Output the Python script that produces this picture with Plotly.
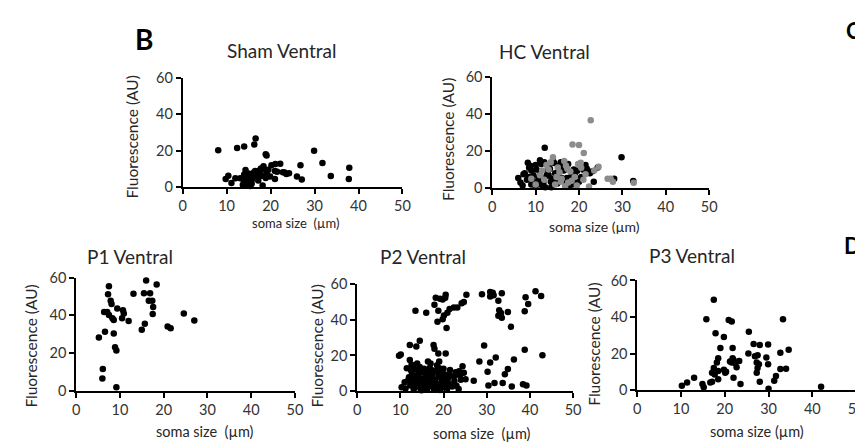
import plotly.graph_objects as go

W, H = 863, 443

# Sham Ventral
sham_x = [8.1, 12.4, 14.0, 16.6, 16.3, 18.9, 19.1, 29.9, 31.8, 21.1, 22.2, 20.2, 26.8, 37.9, 37.8, 33.7, 27.1, 26.0,
          24.2, 23.2, 22.8, 23.6, 21.5, 21.0, 18.4, 18.4, 17.2, 16.5, 14.3, 9.8, 10.4, 11.1, 12.0, 13.1, 13.9, 14.6,
          15.0, 15.7, 15.4, 14.3, 15.9, 17.6, 18.0, 18.9, 19.9, 19.1, 18.2, 21.0, 15.0, 15.7, 16.9, 17.2, 13.7, 14.6,
          16.2, 17.8, 15.2, 14.0, 19.5]
sham_y = [20.2, 21.5, 22.3, 26.7, 23.4, 18.0, 17.3, 19.9, 13.3, 12.7, 12.9, 12.0, 12.0, 10.6, 4.5, 6.1, 4.2, 5.8,
          7.7, 8.0, 8.2, 7.2, 8.4, 4.5, 11.5, 9.8, 8.9, 8.9, 9.4, 4.5, 6.3, 2.3, 4.9, 4.9, 3.7, 5.4,
          2.8, 1.9, 0.7, 6.3, 5.1, 7.2, 6.3, 5.1, 5.8, 7.5, 1.0, 8.9, 7.5, 4.0, 6.3, 3.7, 1.4, 1.0,
          8.0, 10.2, 6.0, 7.0, 9.6]

# HC Ventral (two groups: black and grey)
hc_black_x = [12.1, 29.8, 8.2, 32.5, 28.1, 24.3, 23.1, 23.4, 21.5, 21.1, 19.6, 18.1, 20.0,
              6.0, 6.5, 7.0, 7.5, 8.0, 8.5, 9.0, 9.5, 10.0, 10.5, 11.0, 11.5, 12.0, 12.5, 13.0, 13.5, 14.0, 14.5,
              15.0, 15.5, 16.0, 16.5, 17.0, 17.5, 18.5, 19.0, 20.5, 22.0,
              7.2, 8.8, 9.3, 10.2, 10.8, 11.3, 11.8, 12.8, 13.3, 13.8, 14.3, 15.2, 16.3, 17.2, 18.8, 19.5, 21.8,
              9.0, 10.0, 11.0, 12.2, 13.0, 14.8, 15.8, 17.8, 22.5, 8.5, 11.5, 13.6, 12.6]
hc_black_y = [21.8, 16.6, 13.7, 3.9, 5.1, 11.1, 9.1, 3.4, 12.5, 9.8, 9.4, 6.0, 3.4,
              5.5, 3.0, 1.5, 8.0, 4.5, 11.0, 2.0, 7.0, 12.5, 4.0, 9.0, 1.5, 14.0, 6.5, 11.5, 3.5, 15.0, 8.0,
              2.5, 12.0, 5.5, 9.5, 3.0, 13.0, 2.0, 7.5, 6.0, 8.5,
              7.5, 12.0, 4.0, 10.0, 6.0, 13.0, 3.0, 8.0, 10.5, 5.0, 13.5, 9.0, 11.0, 5.5, 10.0, 3.5, 10.5,
              9.5, 1.0, 15.0, 0.5, 7.0, 4.0, 14.0, 1.5, 8.0, 6.0, 2.5, 0.5, 9.0]
hc_grey_x = [22.7, 18.5, 20.0, 21.1, 20.4, 14.0, 26.6, 27.3, 27.8, 32.6, 22.3, 24.5, 16.6, 15.1,
             10.0, 11.0, 12.0, 13.0, 14.5, 15.5, 16.0, 17.0, 17.5, 18.0, 19.0, 19.5, 20.5, 21.5, 13.5, 16.8,
             18.3, 12.5, 14.8, 17.3, 19.8, 21.0, 9.0, 11.5, 15.8, 23.5]
hc_grey_y = [36.5, 23.5, 23.2, 18.9, 13.7, 16.6, 5.1, 5.1, 3.4, 2.9, 0.9, 11.5, 14.6, 11.1,
             2.0, 7.0, 4.5, 10.0, 2.0, 8.5, 5.0, 12.0, 3.0, 9.0, 6.0, 1.5, 11.0, 7.5, 14.0, 1.0,
             4.0, 12.5, 6.0, 10.5, 13.0, 4.5, 5.0, 9.5, 3.5, 9.5]

# P1 Ventral
p1_x = [7.5, 7.3, 7.9, 8.1, 6.4, 7.1, 7.5, 8.3, 8.6, 9.4, 10.7, 10.9, 10.5, 12.0, 13.1, 5.2, 6.1, 6.0, 6.6,
        8.6, 8.9, 9.2, 9.2, 16.0, 15.5, 16.9, 16.6, 17.4, 18.4, 17.6, 17.5, 15.7, 15.0, 20.9, 21.6, 24.6, 27.0]
p1_y = [55.4, 51.2, 47.8, 46.1, 41.8, 41.8, 40.2, 38.5, 37.6, 43.6, 42.7, 41.0, 38.5, 37.1, 51.5, 28.3, 11.7, 6.6, 31.4,
        30.5, 23.2, 21.5, 2.0, 58.5, 51.7, 51.7, 47.8, 47.8, 56.3, 44.4, 40.7, 35.6, 32.4, 34.2, 33.2, 41.0, 37.3]

# P2 Ventral
p2_x = [13.5, 16.0, 17.9, 18.2, 19.2, 19.8, 20.5, 20.4, 18.8, 18.6, 19.8, 20.1, 20.9, 20.7, 21.4, 22.4, 23.2, 24.2,
        25.3, 24.7, 28.9, 30.8, 31.4, 30.8, 31.6, 33.5, 32.7, 32.9, 33.3, 32.7, 33.5, 34.9, 35.6, 39.0, 39.6, 38.8,
        41.3, 42.6,
        29.4, 28.3, 30.8, 32.1, 36.3, 38.8, 42.9, 30.2, 34.9, 34.2, 27.0, 30.4, 31.8, 33.7, 35.8, 38.4, 39.2, 24.4,
        24.7, 25.1, 23.6, 24.0,
        10.1, 9.7, 12.2, 14.5, 13.7, 17.7, 17.9, 20.5, 12.2, 12.6, 16.4, 18.8, 19.0, 10.3, 11.0,
        11.2, 11.8, 12.3, 12.7, 13.1, 13.4, 13.8, 14.1, 14.4, 14.7, 15.0, 15.3, 15.6, 15.9, 16.2, 16.5, 16.8, 17.1,
        17.4, 17.7, 18.0, 18.3, 18.6, 18.9, 19.2, 19.5, 19.8, 20.1, 20.4, 20.8, 21.2, 21.6, 22.0, 22.5, 23.0, 23.5,
        13.0, 14.5, 15.5, 17.0, 18.5, 19.0, 16.0, 14.0, 12.5, 15.2, 16.8, 17.5, 18.2, 19.0, 13.6, 14.9, 16.4, 17.9,
        19.6, 20.6, 21.5, 22.4, 20.0, 18.8, 17.2, 15.8, 14.2, 12.0, 11.5, 13.2, 16.6, 18.4, 19.8, 21.0, 22.8, 23.8,
        15.0, 16.0, 17.6, 19.4, 12.8, 14.6, 13.9, 20.8]
p2_y = [45.2, 44.0, 48.5, 52.4, 51.9, 51.5, 54.2, 52.4, 45.2, 39.0, 40.4, 42.5, 44.0, 35.4, 46.1, 47.0, 47.0, 49.4,
        54.2, 50.1, 54.4, 55.7, 55.3, 53.1, 53.9, 55.0, 50.8, 45.4, 43.9, 42.3, 41.2, 44.5, 36.1, 52.8, 49.0, 44.9,
        56.1, 53.5,
        25.6, 16.6, 16.0, 18.9, 17.8, 23.2, 20.2, 10.8, 12.4, 9.4, 5.8, 3.1, 4.5, 4.5, 2.5, 3.9, 3.1, 13.9,
        10.3, 6.6, 11.2, 6.3,
        20.5, 19.8, 25.9, 28.3, 25.0, 25.9, 23.8, 21.1, 17.5, 14.8, 16.6, 21.1, 16.6, 2.2, 4.9,
        1.5, 6.0, 3.2, 9.5, 1.0, 5.5, 12.0, 3.0, 7.5, 1.2, 10.5, 4.5, 2.0, 8.0, 0.8, 5.8, 13.0, 3.5,
        9.0, 1.5, 6.5, 11.5, 2.8, 7.8, 0.6, 4.8, 10.0, 2.2, 6.0, 1.0, 4.0, 8.5, 2.5, 5.5, 3.0, 1.2,
        14.0, 13.5, 12.5, 15.5, 14.5, 12.8, 11.0, 9.0, 11.5, 6.8, 7.0, 5.2, 4.0, 3.8, 2.4, 0.5, 2.6, 0.9,
        8.6, 9.2, 11.8, 8.0, 12.5, 9.6, 11.8, 4.0, 5.8, 7.8, 12.8, 7.0, 9.8, 1.8, 5.6, 6.8, 10.6, 8.8,
        2.8, 6.2, 3.0, 2.0, 4.4, 10.8, 15.5, 3.2]

# P3 Ventral
p3_x = [17.5, 15.8, 20.9, 21.6, 33.3, 25.5, 17.9, 19.8, 19.0, 21.8, 26.6, 28.0, 29.9, 25.4, 26.9, 29.5, 32.7, 34.6,
        18.5, 18.2, 17.5, 18.5, 19.8, 20.3, 21.2, 21.6, 22.0, 22.4, 23.3, 21.8, 22.7, 22.0, 23.6, 27.5, 27.3, 27.8,
        27.5, 27.3, 28.0, 29.9, 30.0, 31.3, 31.7, 32.7, 34.0, 10.2, 11.4, 13.0, 14.9, 15.2, 16.7, 17.1, 17.1, 17.7,
        18.5, 20.1, 42.0]
p3_y = [49.5, 38.8, 38.4, 37.5, 38.8, 31.9, 31.1, 29.1, 23.0, 23.0, 25.3, 24.7, 24.9, 20.0, 18.6, 17.9, 20.4, 22.1,
        17.4, 15.1, 12.1, 10.4, 11.2, 10.0, 15.6, 15.1, 16.5, 14.7, 16.0, 17.4, 12.5, 6.8, 3.3, 19.1, 15.1, 14.2,
        12.1, 9.5, 4.6, 14.2, 0.7, 5.1, 7.7, 11.6, 11.7, 2.4, 4.2, 6.8, 3.3, 1.6, 4.2, 4.6, 9.5, 8.6,
        6.0, 9.5, 1.8]

x_ticks = [0, 10, 20, 30, 40, 50]
y_ticks = [0, 20, 40, 60]

FONT = "Lato, 'Open Sans', sans-serif"

# panel boxes in pixels: (x0, x50, y0, y60)
panels = [
    (173, 396, 177, 63),   # Sham
    (487, 707, 178, 62),   # HC
    (65, 287, 389, 271),   # P1
    (350, 569, 389, 278),  # P2
    (634, 856, 388, 274),  # P3
]

fig = go.Figure()

def dots(x, y, n, color="black"):
    sfx = "" if n == 1 else str(n)
    fig.add_trace(go.Scatter(x=x, y=y, mode="markers", xaxis="x" + sfx, yaxis="y" + sfx,
                             marker=dict(color=color, size=6.5, line=dict(width=0)),
                             cliponaxis=False, showlegend=False, hoverinfo="x+y"))

dots(sham_x, sham_y, 1)
dots(hc_black_x, hc_black_y, 2)
dots(hc_grey_x, hc_grey_y, 2, "#8c8c8c")
dots(p1_x, p1_y, 3)
dots(p2_x, p2_y, 4)
dots(p3_x, p3_y, 5)

lay = {}
for i, (x0, x1, y0, y1) in enumerate(panels, start=1):
    sfx = "" if i == 1 else str(i)
    lay["xaxis" + sfx] = dict(domain=[x0 / W, x1 / W], anchor="y" + sfx, range=[0, 50],
                              tickvals=x_ticks, showgrid=False, zeroline=False,
                              showline=True, linecolor="black", linewidth=1.6,
                              ticks="outside", ticklen=5, tickwidth=1.6, tickcolor="black",
                              tickfont=dict(size=14.5, color="#333333", family=FONT))
    lay["yaxis" + sfx] = dict(domain=[1 - y0 / H, 1 - y1 / H], anchor="x" + sfx, range=[0, 60],
                              tickvals=y_ticks, showgrid=False, zeroline=False,
                              showline=True, linecolor="black", linewidth=1.6,
                              ticks="outside", ticklen=5, tickwidth=1.6, tickcolor="black",
                              tickfont=dict(size=14.5, color="#333333", family=FONT))

def label(text, px, py, size, angle=0, bold=False, xanchor="center"):
    fig.add_annotation(text=f"<b>{text}</b>" if bold else text, x=px / W, y=1 - py / H,
                       xref="paper", yref="paper", showarrow=False, textangle=angle,
                       xanchor=xanchor, yanchor="middle",
                       font=dict(size=size, color="black" if bold else "#262626", family=FONT))

# panel titles
label("Sham Ventral", 273, 35, 19)
label("HC Ventral", 540, 36, 19)
label("P1 Ventral", 120, 249, 19)
label("P2 Ventral", 417, 249, 19)
label("P3 Ventral", 690, 248, 19)

# axis titles
label("soma size  (µm)", 288, 214, 13)
label("soma size (µm)", 591, 218, 14)
label("soma size  (µm)", 196, 431, 14.5)
label("soma size  (µm)", 477, 433, 14.5)
label("soma size (µm)", 755, 431, 14.5)
for px, py in [(122, 125), (442, 127), (19, 342), (309, 342), (590, 340)]:
    label("Fluorescence (AU)", px, py, 15.5, angle=-90)

# panel letters (at the cropped right edge in the source)
label("B", 134, 23, 28, bold=True)
label("C", 863, 14, 22, bold=True, xanchor="right")
label("D", 863, 238, 22, bold=True, xanchor="right")

fig.update_layout(width=W, height=H, margin=dict(l=0, r=0, t=0, b=0),
                  paper_bgcolor="white", plot_bgcolor="white",
                  font=dict(family=FONT), **lay)

fig.write_html("out.html")
